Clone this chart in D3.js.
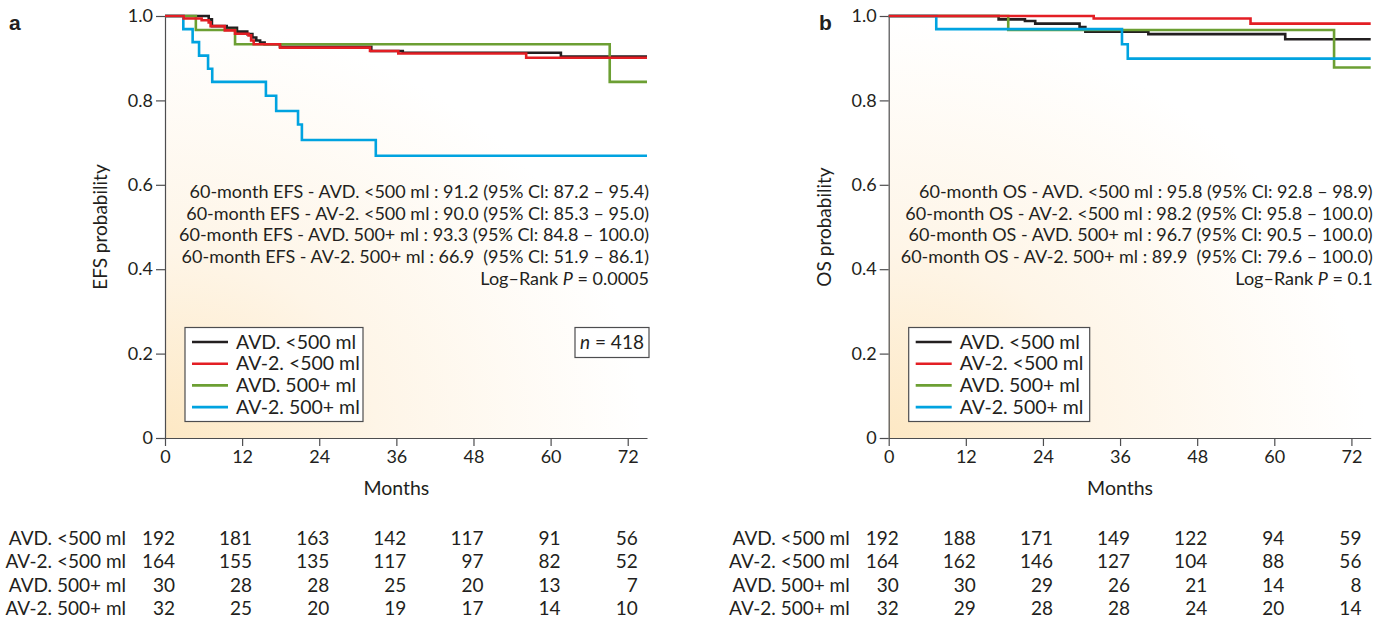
<!DOCTYPE html>
<html>
<head>
<meta charset="utf-8">
<script src="https://cdn.jsdelivr.net/npm/d3@7"></script>
<style>
  body { margin: 0; background: #fff; }
  svg text { font-family: Lato, 'Open Sans', sans-serif; fill: #231f20; white-space: pre; }
</style>
</head>
<body>
<div id="container"></div>
<script>
/* CONSTANTS AND GLOBALS */
const width = 1389,
  height = 623;

/* DATA */
const groups = ["AVD. <500 ml", "AV-2. <500 ml", "AVD. 500+ ml", "AV-2. 500+ ml"];
const legendLabels = ["AVD. <500 ml", "AV-2. <500 ml", "AVD. 500+ ml", "AV-2. 500+ ml"];
const colors = ["#231f20", "#e31e24", "#6c9f33", "#00a3e0"];
const monthTicks = [0, 12, 24, 36, 48, 60, 72];
const probTicks = [0, 0.2, 0.4, 0.6, 0.8, 1.0];

// [month, survival] step points, last point = end of follow-up
const efsAvdLow = [[0, 1], [6.8, 0.992], [7.3, 0.976], [9.6, 0.972], [11.2, 0.963], [12.8, 0.957], [13.6, 0.949], [14.2, 0.942], [14.8, 0.937], [15.5, 0.933], [17.9, 0.927], [32.1, 0.917], [37.0, 0.913], [61.6, 0.904], [75, 0.904]];
const efsAv2Low = [[0, 1], [2.9, 0.994], [5.7, 0.99], [6.8, 0.985], [7.1, 0.976], [9.3, 0.966], [10.9, 0.958], [13.0, 0.954], [13.4, 0.942], [13.8, 0.933], [17.9, 0.925], [31.9, 0.917], [36.3, 0.911], [56.2, 0.901], [75, 0.901]];
const efsAvdHigh = [[0, 1], [4.8, 0.967], [10.9, 0.933], [69.2, 0.844], [75, 0.844]];
const efsAv2High = [[0, 1], [2.85, 0.969], [4.3, 0.938], [5.3, 0.906], [6.7, 0.875], [7.35, 0.844], [15.7, 0.811], [17.3, 0.775], [20.7, 0.743], [21.3, 0.706], [32.8, 0.669], [75, 0.669]];

const osAvdLow = [[0, 1], [17.1, 0.992], [21.2, 0.988], [22.8, 0.982], [29.7, 0.974], [30.6, 0.963], [40.4, 0.957], [61.7, 0.945], [75, 0.945]];
const osAv2Low = [[0, 1], [31.9, 0.994], [56.3, 0.982], [75, 0.982]];
const osAvdHigh = [[0, 1], [18.6, 0.967], [69.3, 0.878], [75, 0.878]];
const osAv2High = [[0, 1], [7.4, 0.969], [36.3, 0.933], [37.2, 0.899], [75, 0.899]];

// numbers at risk at each month tick
const efsRisk = [
  [192, 181, 163, 142, 117, 91, 56],
  [164, 155, 135, 117, 97, 82, 52],
  [30, 28, 28, 25, 20, 13, 7],
  [32, 25, 20, 19, 17, 14, 10]
];
const osRisk = [
  [192, 188, 171, 149, 122, 94, 59],
  [164, 162, 146, 127, 104, 88, 56],
  [30, 30, 29, 26, 21, 14, 8],
  [32, 29, 28, 28, 24, 20, 14]
];

const efsNotes = [
  "60-month EFS - AVD. <500 ml : 91.2 (95% Cl: 87.2 – 95.4)",
  "60-month EFS - AV-2. <500 ml : 90.0 (95% Cl: 85.3 – 95.0)",
  "60-month EFS - AVD. 500+ ml : 93.3 (95% Cl: 84.8 – 100.0)",
  "60-month EFS - AV-2. 500+ ml : 66.9  (95% Cl: 51.9 – 86.1)"
];
const osNotes = [
  "60-month OS - AVD. <500 ml : 95.8 (95% Cl: 92.8 – 98.9)",
  "60-month OS - AV-2. <500 ml : 98.2 (95% Cl: 95.8 – 100.0)",
  "60-month OS - AVD. 500+ ml : 96.7 (95% Cl: 90.5 – 100.0)",
  "60-month OS - AV-2. 500+ ml : 89.9  (95% Cl: 79.6 – 100.0)"
];

/* SVG */
const svg = d3.select("#container")
  .append("svg")
  .attr("width", width)
  .attr("height", height);

// background gradient
const grad = svg.append("defs").append("radialGradient")
  .attr("id", "warm")
  .attr("cx", 0).attr("cy", 1).attr("r", 1.1)
  .attr("fx", 0).attr("fy", 1);
grad.append("stop").attr("offset", 0).attr("stop-color", "#fde8c4");
grad.append("stop").attr("offset", 0.4).attr("stop-color", "#fef5e7");
grad.append("stop").attr("offset", 0.9).attr("stop-color", "#ffffff");

function drawPanel(p) {
  const xScale = d3.scaleLinear().domain([0, 75]).range([p.x0, p.x0 + 482]);
  const yScale = d3.scaleLinear().domain([0, 1]).range([438, 16]);
  const g = svg.append("g");

  // plot background
  g.append("rect")
    .attr("x", xScale(0)).attr("y", yScale(1))
    .attr("width", xScale(75) - xScale(0))
    .attr("height", yScale(0) - yScale(1))
    .attr("fill", "url(#warm)");

  // panel letter
  g.append("text")
    .attr("x", p.letterX).attr("y", 30)
    .style("font-family", "'Liberation Sans', Arial, sans-serif")
    .style("font-weight", "bold").style("font-size", "21px")
    .text(p.letter);

  /* Axes */
  const xAxis = d3.axisBottom(xScale).tickValues(monthTicks).tickSize(8).tickSizeOuter(0).tickPadding(4);
  const yAxis = d3.axisLeft(yScale).tickValues(probTicks).tickSize(9).tickSizeOuter(0).tickPadding(3)
    .tickFormat(d => d === 0 ? "0" : d3.format(".1f")(d));

  const gx = g.append("g").attr("transform", `translate(0,${yScale(0)})`).call(xAxis);
  const gy = g.append("g").attr("transform", `translate(${xScale(0)},0)`).call(yAxis);
  [gx, gy].forEach(a => {
    a.selectAll("path, line").attr("stroke", "#4d4d4f").attr("stroke-width", 1.2);
    a.selectAll("text").style("font-size", "18px").attr("fill", "#231f20");
  });

  g.append("text")
    .attr("x", xScale(36)).attr("y", 495)
    .attr("text-anchor", "middle").style("font-size", "19.5px")
    .text("Months");

  g.append("text")
    .attr("transform", `translate(${p.x0 - 58},${yScale(0.5)}) rotate(-90)`)
    .attr("text-anchor", "middle").style("font-size", "19px")
    .text(p.yLabel);

  // survival curves
  const line = d3.line()
    .x(d => xScale(d[0]))
    .y(d => yScale(d[1]))
    .curve(d3.curveStepAfter);

  [0, 2, 3, 1].forEach(i => {
    g.append("path")
      .datum(p.curves[i])
      .attr("fill", "none")
      .attr("stroke", colors[i])
      .attr("stroke-width", 2.6)
      .attr("d", line);
  });

  // annotations
  const notes = g.append("g").style("font-size", "18px").attr("text-anchor", "end");
  p.notes.forEach((t, i) => {
    notes.append("text")
      .attr("x", xScale(75) + 2).attr("y", 198 + i * 21.7)
      .text(t);
  });
  const lr = notes.append("text")
    .attr("x", xScale(75) + 2).attr("y", 198 + 4 * 21.7);
  lr.append("tspan").text("Log–Rank ");
  lr.append("tspan").style("font-style", "italic").text("P");
  lr.append("tspan").text(" = " + p.logRank);

  // legend
  const lx = p.x0 + 20;
  const leg = g.append("g");
  leg.append("rect")
    .attr("x", lx).attr("y", 327.5)
    .attr("width", p.legendW).attr("height", 94)
    .attr("fill", "#fff").attr("stroke", "#4d4d4f").attr("stroke-width", 1.2);
  legendLabels.forEach((t, i) => {
    const cy = 342 + i * 21.7;
    leg.append("line")
      .attr("x1", lx + 7).attr("x2", lx + 43)
      .attr("y1", cy).attr("y2", cy)
      .attr("stroke", colors[i]).attr("stroke-width", 2.6);
    leg.append("text")
      .attr("x", lx + 51).attr("y", cy + 6.5)
      .style("font-size", "19.5px")
      .text(t);
  });

  // n box
  if (p.n) {
    g.append("rect")
      .attr("x", xScale(75) - 72).attr("y", 327.5)
      .attr("width", 74).attr("height", 30)
      .attr("fill", "#fff").attr("stroke", "#4d4d4f").attr("stroke-width", 1.2);
    const nt = g.append("text")
      .attr("x", xScale(75) - 35).attr("y", 349)
      .attr("text-anchor", "middle").style("font-size", "19px");
    nt.append("tspan").style("font-style", "italic").text("n");
    nt.append("tspan").text(" = " + p.n);
  }

  // numbers at risk
  const tbl = g.append("g").style("font-size", "19px");
  groups.forEach((name, r) => {
    const y = 545 + r * 23.4;
    tbl.append("text")
      .attr("x", xScale(0) - 39).attr("y", y)
      .attr("text-anchor", "end")
      .text(name);
    tbl.selectAll(null)
      .data(p.risk[r])
      .join("text")
      .attr("x", (d, j) => xScale(monthTicks[j]) + 10)
      .attr("y", y)
      .attr("text-anchor", "end")
      .text(d => d);
  });
}

drawPanel({
  letter: "a", letterX: 9, x0: 165, yLabel: "EFS probability",
  curves: [efsAvdLow, efsAv2Low, efsAvdHigh, efsAv2High],
  notes: efsNotes, logRank: "0.0005", n: 418, legendW: 178, risk: efsRisk
});
drawPanel({
  letter: "b", letterX: 819, x0: 888.7, yLabel: "OS probability",
  curves: [osAvdLow, osAv2Low, osAvdHigh, osAv2High],
  notes: osNotes, logRank: "0.1", n: null, legendW: 181, risk: osRisk
});
</script>
</body>
</html>
